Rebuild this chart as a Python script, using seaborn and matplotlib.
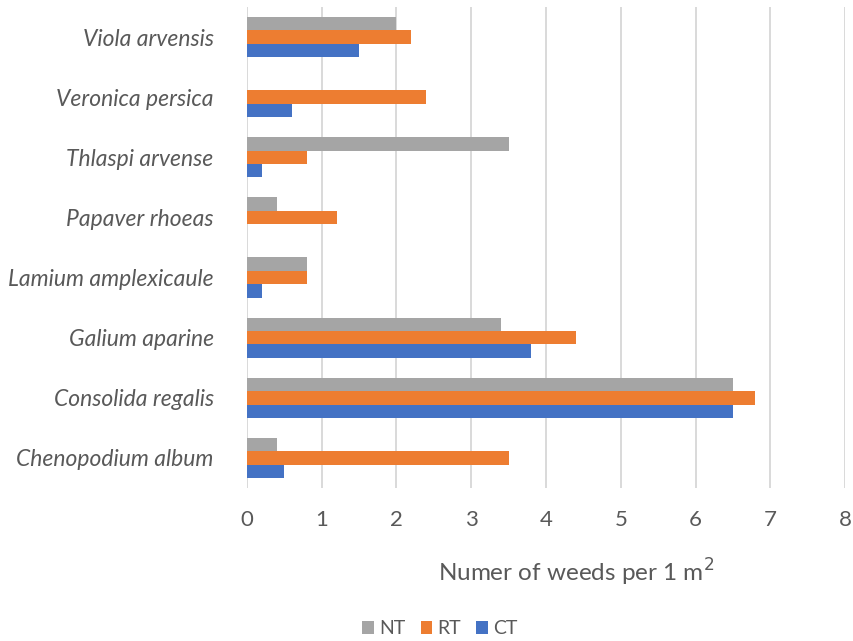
import matplotlib
matplotlib.use("Agg")
import matplotlib.pyplot as plt
import seaborn as sns
import pandas as pd
from matplotlib.patches import Patch

# Weed species (top to bottom) and densities per tillage system
species = ["Viola arvensis", "Veronica persica", "Thlaspi arvense", "Papaver rhoeas",
           "Lamium amplexicaule", "Galium aparine", "Consolida regalis", "Chenopodium album"]
nt = [2.0, 0.0, 3.5, 0.4, 0.8, 3.4, 6.5, 0.4]
rt = [2.2, 2.4, 0.8, 1.2, 0.8, 4.4, 6.8, 3.5]
ct = [1.5, 0.6, 0.2, 0.0, 0.2, 3.8, 6.5, 0.5]
systems = ["NT", "RT", "CT"]
colors = {"NT": "#a5a5a5", "RT": "#ed7d31", "CT": "#4472c4"}
xticks = [0, 1, 2, 3, 4, 5, 6, 7, 8]

rows = []
for sys_name, vals in zip(systems, [nt, rt, ct]):
    for sp, v in zip(species, vals):
        rows.append({"species": sp, "system": sys_name, "value": v})
df = pd.DataFrame(rows)

sns.set_theme(style="white")
plt.rcParams["font.family"] = ["Lato", "DejaVu Sans"]
text_color = "#595959"

W, H = 854, 641
left, right, top, bottom = 247, 845, 7, 488
fig = plt.figure(figsize=(W / 100, H / 100), dpi=100)
ax = fig.add_axes([left / W, 1 - bottom / H, (right - left) / W, (bottom - top) / H])

sns.barplot(data=df, y="species", x="value", hue="system", order=species,
            hue_order=systems, palette=colors, saturation=1, orient="h",
            width=0.67, gap=0, linewidth=0, ax=ax, legend=False)

ax.set_xlim(0, 8)
ax.set_xticks(xticks)
ax.set_xticklabels([str(t) for t in xticks])
ax.grid(axis="x", color="#d9d9d9", linewidth=1.4)
ax.grid(axis="y", visible=False)
ax.set_axisbelow(True)
for s in ax.spines.values():
    s.set_visible(False)
ax.tick_params(axis="both", length=0, colors=text_color, labelsize=16)
ax.tick_params(axis="x", pad=16)
ax.tick_params(axis="y", pad=24, labelsize=16.5)
for lbl in ax.get_yticklabels():
    lbl.set_fontstyle("italic")
    lbl.set_color(text_color)
ax.set_ylabel("")
ax.set_xlabel("Numer of weeds per 1 m$^2$", color=text_color, fontsize=17.5,
              va="baseline")
ax.xaxis.set_label_coords((576 - left) / (right - left), -(582 - bottom) / (bottom - top))

handles = [Patch(facecolor=colors[s], edgecolor="none", label=s) for s in systems]
fig.legend(handles=handles, loc="center", bbox_to_anchor=(0.515, 1 - 629 / H), ncol=3,
           frameon=False, fontsize=14, handlelength=0.6, handleheight=0.6,
           handletextpad=0.25, columnspacing=0.8, labelcolor=text_color)

fig.savefig("out.png", dpi=100)
